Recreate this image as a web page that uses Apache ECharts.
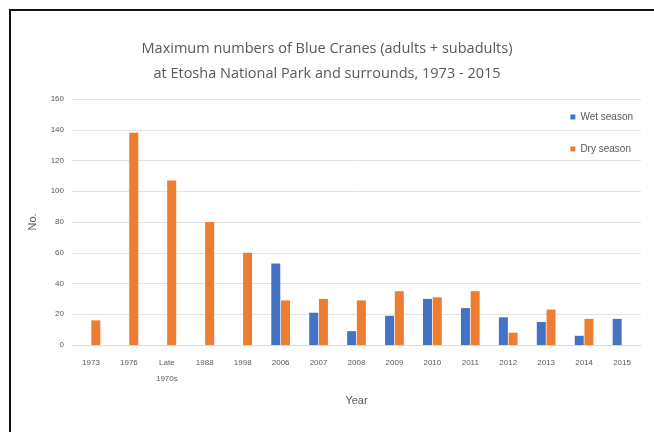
<!DOCTYPE html>
<html><head><meta charset="utf-8">
<script src="https://cdn.jsdelivr.net/npm/echarts@6/dist/echarts.min.js"></script>
<style>
html,body{margin:0;padding:0;background:#fff;}
#frame{position:absolute;left:9px;top:9px;width:660px;height:440px;border-top:2px solid #111;border-left:2px solid #111;}
#c{position:absolute;left:0;top:0;width:654px;height:432px;}
</style></head>
<body>
<div id="frame"></div>
<div id="c"></div>
<script>
const categories = ["1973","1976","Late\n1970s","1988","1998","2006","2007","2008","2009","2010","2011","2012","2013","2014","2015"];
const wetSeason = [null,null,null,null,null,53,21,9,19,30,24,18,15,6,17];
const drySeason = [16,138,107,80,60,29,30,29,35,31,35,8,23,17,null];
const yTicks = [0,20,40,60,80,100,120,140,160];

const chart = echarts.init(document.getElementById('c'), null, {renderer:'canvas'});
const txt = '#595959';
chart.setOption({
  backgroundColor: 'transparent',
  animation: false,
  title: {
    text: 'Maximum numbers of Blue Cranes (adults + subadults)\nat Etosha National Park and surrounds, 1973 - 2015',
    left: 'center', top: 31,
    textStyle: {color: txt, fontSize: 14.5, fontWeight: 'normal', lineHeight: 25, fontFamily: 'Open Sans'}
  },
  legend: {
    orient: 'vertical', right: 16, top: 107, itemGap: 22,
    itemWidth: 5, itemHeight: 5, icon: 'rect',
    textStyle: {color: txt, fontSize: 10},
    data: ['Wet season','Dry season']
  },
  grid: {left: 72, right: 13, top: 99, bottom: 87},
  xAxis: {
    type: 'category', data: categories,
    name: 'Year', nameLocation: 'middle', nameGap: 50,
    nameTextStyle: {color: txt, fontSize: 11},
    axisLine: {lineStyle: {color: '#d9d9d9'}},
    axisTick: {show: false},
    axisLabel: {color: txt, fontSize: 8, margin: 10, interval: 0, lineHeight: 16}
  },
  yAxis: {
    type: 'value', min: 0, max: 160, interval: 20,
    name: 'No.', nameLocation: 'middle', nameGap: 34, nameRotate: 90,
    nameTextStyle: {color: txt, fontSize: 11},
    axisLine: {show: false}, axisTick: {show: false},
    axisLabel: {color: txt, fontSize: 8, margin: 8},
    splitLine: {lineStyle: {color: '#e3e3e3'}}
  },
  series: [
    {name: 'Wet season', type: 'bar', data: wetSeason, barWidth: 9, barGap: '8%',
     itemStyle: {color: '#4472C4'}},
    {name: 'Dry season', type: 'bar', data: drySeason, barWidth: 9,
     itemStyle: {color: '#ED7D31'}}
  ]
});
</script>
</body></html>
